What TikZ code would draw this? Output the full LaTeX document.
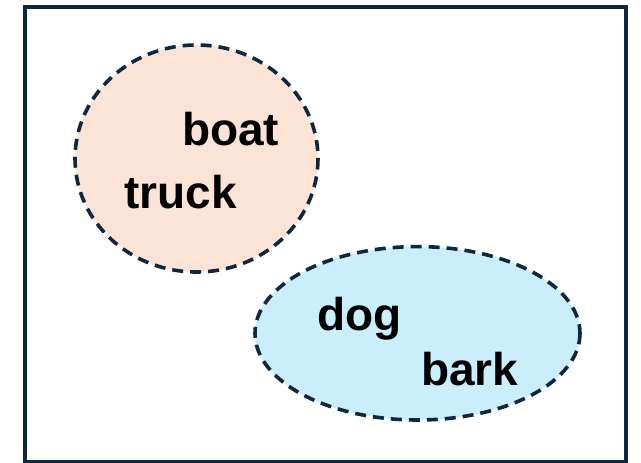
\documentclass[tikz,border=0pt]{standalone}
\usepackage{fontspec}
\setmainfont{Liberation Sans}
\definecolor{navy}{HTML}{0E2841}
\definecolor{peach}{HTML}{FBE3D6}
\definecolor{skyb}{HTML}{CAEEFB}
\begin{document}
\begin{tikzpicture}[x=1pt,y=-1pt,
  setshape/.style={draw=navy,line width=3.6pt,dash pattern=on 11pt off 7pt},
  word/.style={anchor=base west,inner sep=0pt,font=\fontsize{46}{52}\selectfont\bfseries}]
\useasboundingbox (0,0) rectangle (641,463);
\draw[navy,line width=4pt] (24.5,7) rectangle (625.5,462);
\path[setshape,fill=peach] (196.5,158.5) ellipse [x radius=121.5,y radius=113.5];
\path[setshape,fill=skyb] (417.5,333.3) ellipse [x radius=162.5,y radius=86.7];
\node[word] (boat) at (182,145) {boat};
\node[word] (truck) at (124,208) {truck};
\node[word] (dog) at (317,330) {dog};
\node[word] (bark) at (421,385) {bark};
\end{tikzpicture}
\end{document}
